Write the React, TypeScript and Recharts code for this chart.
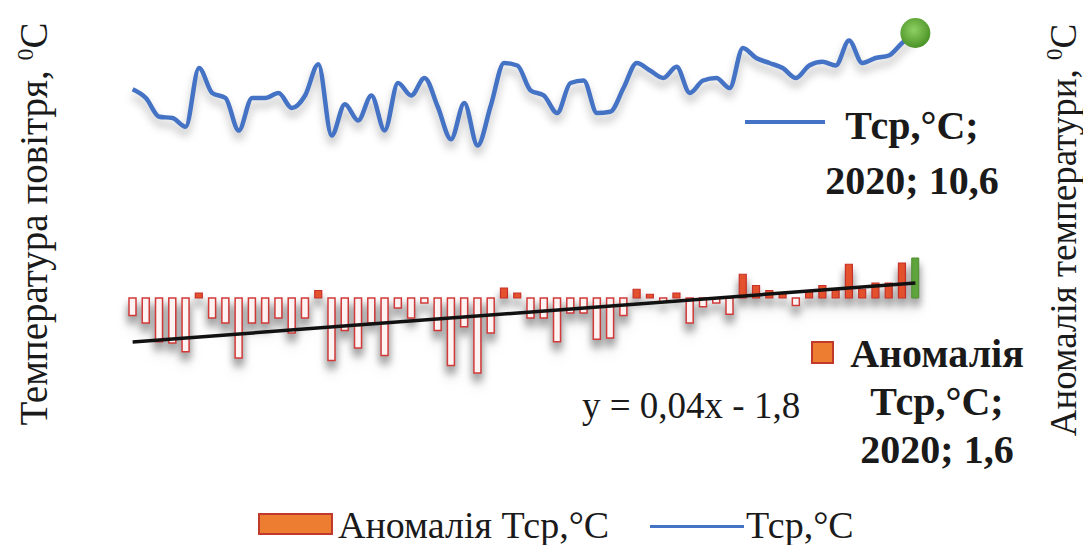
import { ComposedChart, Bar, Line, Cell, XAxis, YAxis, ReferenceLine } from 'recharts';

const years = [
  '1961', '1962', '1963', '1964', '1965', '1966', '1967', '1968', '1969', '1970',
  '1971', '1972', '1973', '1974', '1975', '1976', '1977', '1978', '1979', '1980',
  '1981', '1982', '1983', '1984', '1985', '1986', '1987', '1988', '1989', '1990',
  '1991', '1992', '1993', '1994', '1995', '1996', '1997', '1998', '1999', '2000',
  '2001', '2002', '2003', '2004', '2005', '2006', '2007', '2008', '2009', '2010',
  '2011', '2012', '2013', '2014', '2015', '2016', '2017', '2018', '2019', '2020',
];

// Аномалія Тср, °C
const anomalies = [
  -0.7, -1.0, -1.75, -1.8, -2.15, 0.2, -0.8, -1.0, -2.4, -1.0,
  -1.0, -0.8, -1.4, -0.8, 0.3, -2.5, -1.3, -2.0, -1.0, -2.3,
  -0.4, -0.8, -0.2, -1.3, -2.7, -1.15, -3.0, -1.4, 0.4, 0.2,
  -0.8, -0.8, -1.75, -0.6, -0.6, -1.65, -1.6, -0.7, 0.35, 0.15,
  -0.15, 0.2, -1.0, -0.35, -0.2, -0.65, 0.95, 0.5, 0.3, 0.2,
  -0.3, 0.3, 0.5, 0.3, 1.35, 0.35, 0.6, 0.6, 1.4, 1.6,
];

// Тср, °C
const temps = [
  8.35, 8.0, 7.25, 7.2, 6.85, 9.2, 8.2, 8.0, 6.7, 8.0,
  8.0, 8.2, 7.6, 8.1, 9.35, 6.5, 7.75, 7.1, 8.1, 6.7,
  8.6, 8.1, 8.8, 7.65, 6.35, 7.8, 6.1, 7.7, 9.4, 9.3,
  8.3, 8.1, 7.4, 8.6, 8.7, 7.4, 7.45, 8.4, 9.4, 9.1,
  8.8, 9.25, 8.2, 8.7, 8.8, 8.4, 10.0, 9.6, 9.4, 9.2,
  8.8, 9.3, 9.45, 9.3, 10.3, 9.4, 9.6, 9.7, 10.2, 10.6,
];

// лінійний тренд y = 0,04x - 1,8 (кінцеві точки)
const trendStart = -1.76;
const trendEnd = 0.6;

const data = years.map((year, i) => ({ year, anomaly: anomalies[i], temp: temps[i] }));
const lastIndex = data.length - 1;

const serif = '"Liberation Serif", Tinos, "DejaVu Serif", serif';

function EndDot(props: any) {
  const { cx, cy, index } = props;
  if (index !== lastIndex) return <g key={`dot-${index}`} />;
  return <circle key={`dot-${index}`} cx={cx} cy={cy} r={15} fill="url(#greenDot)" />;
}

export default function App() {
  return (
    <div style={{ position: 'relative', width: 1075, height: 537, fontFamily: serif, color: '#1a1a1a' }}>
      <style>{`.shadowed { filter: drop-shadow(0px 7px 4px rgba(0,0,0,0.28)); }`}</style>
      <ComposedChart
        width={1075}
        height={537}
        data={data}
        margin={{ top: 15, right: 161, bottom: 147, left: 118 }}
      >
        <defs>
          <radialGradient id="greenDot" cx="45%" cy="40%" r="60%">
            <stop offset="0%" stopColor="#8fd062" />
            <stop offset="100%" stopColor="#4a9226" />
          </radialGradient>
        </defs>
        <XAxis dataKey="year" hide />
        <YAxis yAxisId="left" domain={[-4, 11]} hide />
        <YAxis yAxisId="right" orientation="right" domain={[-4, 11]} hide />
        <Bar
          yAxisId="right"
          dataKey="anomaly"
          name="Аномалія Тср,°C"
          barSize={7}
          className="shadowed"
          isAnimationActive={false}
        >
          {data.map((d, i) => {
            if (i === lastIndex) return <Cell key={d.year} fill="#5ea33c" stroke="#4f8f30" strokeWidth={1} />;
            if (d.anomaly >= 0) return <Cell key={d.year} fill="#e4512d" stroke="#c8302a" strokeWidth={1.2} />;
            return <Cell key={d.year} fill="#fff4f4" stroke="#d23a3a" strokeWidth={1.5} />;
          })}
        </Bar>
        <ReferenceLine
          yAxisId="right"
          segment={[{ x: years[0], y: trendStart }, { x: years[lastIndex], y: trendEnd }]}
          stroke="#111"
          strokeWidth={3.5}
        />
        <Line
          yAxisId="left"
          dataKey="temp"
          name="Тср,°C"
          type="monotone"
          stroke="#4472c4"
          strokeWidth={4.5}
          className="shadowed"
          dot={EndDot}
          activeDot={false}
          isAnimationActive={false}
        />
      </ComposedChart>

      {/* назви осей */}
      <div style={{
        position: 'absolute', left: 25, top: 216, transform: 'translate(-50%, -50%) rotate(-90deg)',
        whiteSpace: 'nowrap', fontSize: 39,
      }}>
        Температура повітря, <sup style={{ fontSize: 24 }}>0</sup>C
      </div>
      <div style={{
        position: 'absolute', left: 1055, top: 222, transform: 'translate(-50%, -50%) rotate(-90deg)',
        whiteSpace: 'nowrap', fontSize: 37,
      }}>
        Аномалія температури, <sup style={{ fontSize: 23 }}>0</sup>C
      </div>

      {/* підпис лінії */}
      <div style={{ position: 'absolute', left: 737, top: 112, width: 80, height: 4, background: '#4472c4' }} />
      <div style={{
        position: 'absolute', left: 904, top: 90, transform: 'translateX(-50%)', textAlign: 'center',
        fontWeight: 'bold', fontSize: 40, lineHeight: '55px', whiteSpace: 'nowrap',
      }}>
        Тср,°C;<br />2020; 10,6
      </div>

      {/* підпис стовпця */}
      <div style={{
        position: 'absolute', left: 803, top: 333, width: 19, height: 19, background: '#ed7d31',
        border: '2px solid #c0392b',
      }} />
      <div style={{
        position: 'absolute', left: 929, top: 322, transform: 'translateX(-50%)', textAlign: 'center',
        fontWeight: 'bold', fontSize: 40, lineHeight: '48px', whiteSpace: 'nowrap',
      }}>
        Аномалія<br />Тср,°C;<br />2020; 1,6
      </div>

      {/* рівняння тренду */}
      <div style={{ position: 'absolute', left: 574, top: 376, fontSize: 37, whiteSpace: 'nowrap' }}>
        y = 0,04x - 1,8
      </div>

      {/* легенда */}
      <div style={{
        position: 'absolute', left: 250, top: 505, width: 71, height: 18, background: '#ed7d31',
        border: '2px solid #c0392b',
      }} />
      <div style={{ position: 'absolute', left: 330, top: 495, fontSize: 38, whiteSpace: 'nowrap' }}>
        Аномалія Тср,°C
      </div>
      <div style={{ position: 'absolute', left: 642, top: 517, width: 94, height: 3, background: '#4472c4' }} />
      <div style={{ position: 'absolute', left: 738, top: 495, fontSize: 38, whiteSpace: 'nowrap' }}>
        Тср,°C
      </div>
    </div>
  );
}
